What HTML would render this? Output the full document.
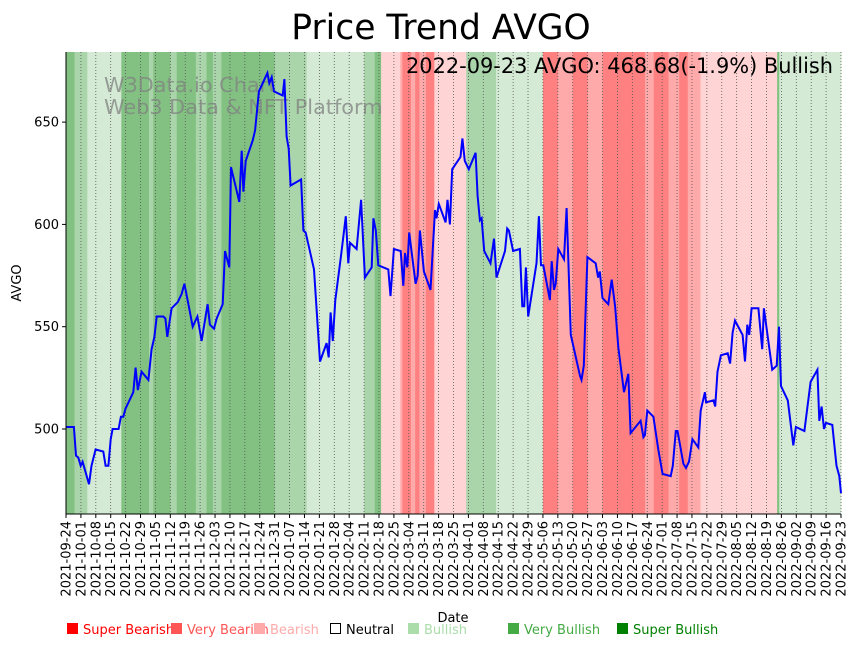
<!DOCTYPE html>
<html><head><meta charset="utf-8"><style>
body{margin:0;background:#fff;}
svg{display:block;font-family:"DejaVu Sans","Liberation Sans",sans-serif;}
</style></head><body>
<svg id="chart" width="857" height="646" viewBox="0 0 857 646" xmlns="http://www.w3.org/2000/svg">
<text x="441" y="39" font-size="34.5" text-anchor="middle" fill="#000">Price Trend AVGO</text>
<g id="bands"></g>
<g id="grid"></g>
<g id="wm">
<text x="104" y="92" font-size="20.8" fill="#808080" fill-opacity="0.75">W3Data.io Chart</text>
<text x="104" y="114" font-size="20.8" fill="#808080" fill-opacity="0.75">Web3 Data &amp; NFT Platform</text>
</g>
<path id="line" fill="none" stroke="#0000ff" stroke-width="2"/>
<text x="833" y="73" font-size="20.9" text-anchor="end" fill="#000">2022-09-23 AVGO: 468.68(-1.9%) Bullish</text>
<g id="axes"></g>
<text x="453" y="622" font-size="13" text-anchor="middle">Date</text>
<text transform="translate(21,283) rotate(-90)" font-size="13" text-anchor="middle">AVGO</text>
<g font-size="13">
<g><rect x="67" y="623" width="11" height="11" fill="#ff0000"/><text x="83" y="634" fill="#ff0000">Super Bearish</text></g>
<g><rect x="171" y="623" width="11" height="11" fill="#ff5555"/><text x="187" y="634" fill="#ff5555">Very Bearish</text></g>
<g><rect x="254" y="623" width="11" height="11" fill="#ffaaaa"/><text x="270" y="634" fill="#ffaaaa">Bearish</text></g>
<g><rect x="330.5" y="623.5" width="10" height="10" fill="#fff" stroke="#000"/><text x="346" y="634" fill="#000">Neutral</text></g>
<g><rect x="408" y="623" width="11" height="11" fill="#aaddaa"/><text x="424" y="634" fill="#aaddaa">Bullish</text></g>
<g><rect x="508" y="623" width="11" height="11" fill="#44aa44"/><text x="524" y="634" fill="#44aa44">Very Bullish</text></g>
<g><rect x="617" y="623" width="11" height="11" fill="#008000"/><text x="633" y="634" fill="#008000">Super Bullish</text></g>
</g>
</svg>
<script>
// Data: [dayOffsetFrom 2021-09-24, price]
const priceDays = [0,3.7,4.7,5.8,6.9,7.8,10.8,12,13.9,17.5,18.6,19.9,21,21.9,24.7,25.8,26.9,28,31.6,32.7,33.7,35.5,38.7,40.2,41.5,42.6,45.7,46.7,47.6,49.6,52.5,54.3,55.6,57.5,59.5,61.7,63.7,66.5,67.6,69.5,70.8,73.6,74.7,76.7,77.5,81.4,82.5,83.3,84.4,87.7,88.8,90.6,94.6,95.5,96.6,97.7,101.8,102.6,103.6,104.6,105.5,110.4,111.5,112.6,116.5,119.3,122.4,123.4,124.3,125.3,126.5,129.2,131.4,132.6,133.4,136.5,138.6,140.4,143.6,144.4,145.5,146.7,151.4,152.4,154,157.2,158.4,159.2,160.3,161.2,164.2,165.2,166.2,168.1,171.2,173.3,174,175.1,178.3,179.2,180.3,181.4,185.3,186.2,187.3,189.2,192.4,193.3,194.4,195.2,196.4,199.4,201,202.2,206.2,207.2,208,210,213.2,214.3,215.2,216,217.1,221,222.1,223.1,224.2,227.3,228.1,229.2,230,231.2,233.9,235.1,237.1,241.4,242.1,243.2,244.9,248.8,249.9,250.7,252,254.7,256.3,257.9,259.4,262.1,264.1,265.2,269.9,271.2,271.9,273,275.9,278.2,280.2,284,285,286.4,287.2,290,291.2,292.6,294.2,297,298.1,300.1,300.6,304.1,304.9,306,307.6,310.8,311.9,313.1,314.2,317.8,318.9,320,320.9,322,325.2,327,327.8,331.7,333.8,334.9,335.8,339,341.6,342.8,346.8,349.7,352.9,353.8,354.9,356,356.9,359.9,361.9,363.2,364];
const priceValues = [501,501,487,486,482,484,473,482,490,489,482,482,495,500,500,506,506,510,518,530,519,528,524,539,545,555,555,554,545,559,562,566,571,561,550,555,543,561,551,549,554,561,587,579,628,611,636,616,631,641,646,665,674,669,672,665,663,671,643,637,619,622,597,596,578,533,542,535,557,543,563,585,604,581,591,588,612,574,579,603,597,580,578,565,588,587,570,586,579,596,571,575,597,577,568,607,603,610,601,612,600,627,633,642,631,627,635,614,602,603,587,581,593,574,587,598,597,587,588,560,560,579,555,581,604,580,580,563,582,568,571,588,583,608,546,526,524,531,584,581,574,577,564,561,573,560,540,518,527,498,504,496,497,509,506,490,478,477,482,499,499,483,481,484,495,491,509,518,513,514,511,528,536,537,532,547,553,546,533,551,546,559,559,539,559,529,531,550,521,514,492,501,499,523,529,504,511,500,503,502,482,477,468.68];
// Sentiment bands: start day, end day, level (-3..3)
const bandStarts = [0,4,10,26,39,41,49,52,61,66,69,73,98,113,140,145,148,157,158,162,164,166,169,173,188,202,224,231,238,245,252,272,276,283,288,292,298,334,335];
const bandEnds   = [4,10,26,39,41,49,52,61,66,69,73,98,113,140,145,148,157,158,162,164,166,169,173,188,202,224,231,238,245,252,272,276,283,288,292,298,334,335,364];
const bandLevels = [3,2,1,3,2,3,2,3,2,3,2,3,2,1,2,3,-1,-2,-3,-2,-3,-2,-3,-1,2,1,-3,-2,-3,-2,-3,-2,-3,-2,-3,-2,-1,3,1];
const yTicks = [500,550,600,650];
const tickCount = 53;

const NS="http://www.w3.org/2000/svg";
const X0=66,X1=841,Y0=52,Y1=514;
const xs=d=>X0+d*(X1-X0)/364;
const ys=v=>429-(v-500)*2.046;
const colors={"3":"#82c182","2":"#aad5aa","1":"#d4ead4","-1":"#ffd4d4","-2":"#ffaaaa","-3":"#ff8080"};
const bands=document.getElementById('bands');
for(let i=0;i<bandStarts.length;i++){
  const r=document.createElementNS(NS,'rect');
  
  
  const a=xs(bandStarts[i]),b=xs(bandEnds[i]);
  r.setAttribute('x',a);r.setAttribute('y',Y0);r.setAttribute('width',b-a+0.3);r.setAttribute('height',Y1-Y0);
  r.setAttribute('fill',colors[String(bandLevels[i])]);
  bands.appendChild(r);
}
const grid=document.getElementById('grid'),axes=document.getElementById('axes');
const base=new Date(Date.UTC(2021,8,24));
for(let i=0;i<tickCount;i++){
  const x=xs(i*7);
  const l=document.createElementNS(NS,'line');
  
  
  l.setAttribute('x1',x);l.setAttribute('x2',x);l.setAttribute('y1',Y0);l.setAttribute('y2',Y1);
  l.setAttribute('stroke','#555');l.setAttribute('stroke-width','0.8');l.setAttribute('stroke-dasharray','1,2');
  grid.appendChild(l);
  const t=document.createElementNS(NS,'line');
  
  
  t.setAttribute('x1',x);t.setAttribute('x2',x);t.setAttribute('y1',Y1);t.setAttribute('y2',Y1+4);t.setAttribute('stroke','#000');
  axes.appendChild(t);
  const d=new Date(base.getTime()+i*7*86400000);
  const txt=document.createElementNS(NS,'text');
  
  
  txt.setAttribute('transform',`translate(${x+4.5},521) rotate(-90)`);
  txt.setAttribute('text-anchor','end');txt.setAttribute('font-size','13');
  txt.textContent=d.toISOString().slice(0,10);
  axes.appendChild(txt);
}
yTicks.forEach(v=>{
  const y=ys(v);
  const t=document.createElementNS(NS,'line');
  
  
  t.setAttribute('x1',X0-4);t.setAttribute('x2',X0);t.setAttribute('y1',y);t.setAttribute('y2',y);t.setAttribute('stroke','#000');
  axes.appendChild(t);
  const txt=document.createElementNS(NS,'text');
  
  
  txt.setAttribute('x',X0-7);txt.setAttribute('y',y+4.5);txt.setAttribute('text-anchor','end');txt.setAttribute('font-size','13');
  txt.textContent=v;
  axes.appendChild(txt);
});
const sp=document.createElementNS(NS,'path');


sp.setAttribute('d',`M${X0},${Y0}V${Y1}H${X1}`);sp.setAttribute('stroke','#000');sp.setAttribute('fill','none');
axes.appendChild(sp);
let d='';
for(let i=0;i<priceDays.length;i++){d+=(i?'L':'M')+xs(priceDays[i]).toFixed(1)+','+ys(priceValues[i]).toFixed(1);}
document.getElementById('line').setAttribute('d',d);
</script>
</body></html>
